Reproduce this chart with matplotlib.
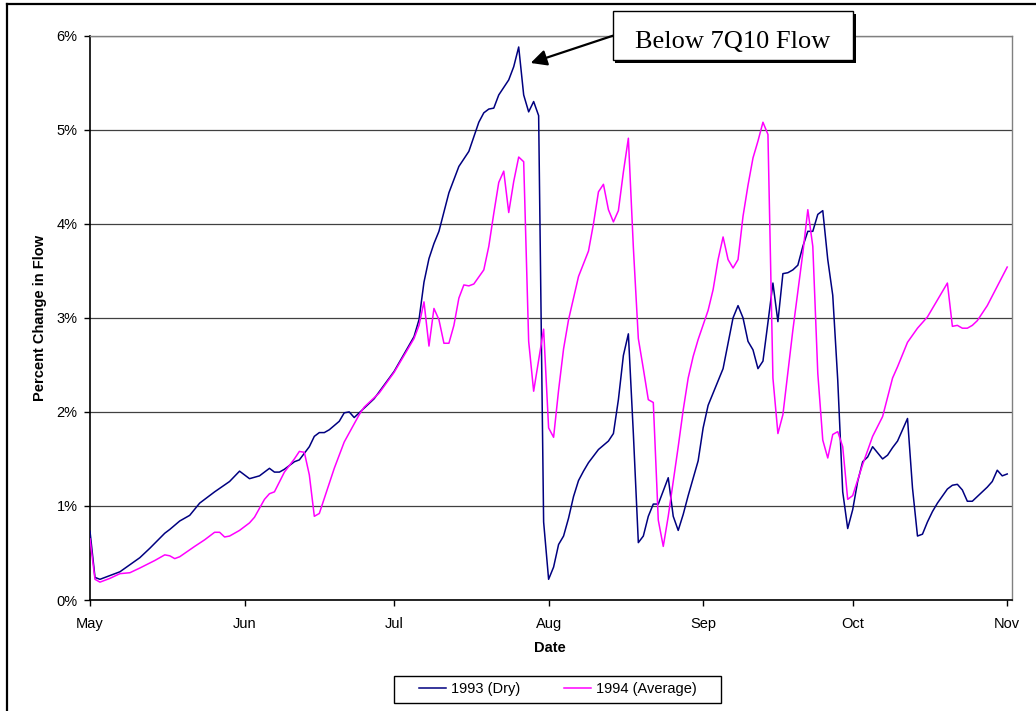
import matplotlib
matplotlib.use("Agg")
import matplotlib.pyplot as plt
from matplotlib.patches import Rectangle
from matplotlib.lines import Line2D

plt.rcParams['font.family'] = ['Liberation Sans', 'DejaVu Sans']

# ---- data (day offset from May 1, percent change in flow) ----
month_labels = ["May", "Jun", "Jul", "Aug", "Sep", "Oct", "Nov"]
month_days = [0, 31, 61, 92, 123, 153, 184]
ytick_vals = [0, 1, 2, 3, 4, 5, 6]
ytick_labels = ["0%", "1%", "2%", "3%", "4%", "5%", "6%"]

days_1993 = [0, 1, 2, 6, 10, 12, 15, 16, 18, 20, 22, 25, 28, 30, 32, 34, 36, 37, 38, 39,
             41, 42, 44, 45, 46, 47, 48, 50, 51, 52, 53, 55, 57, 61, 65, 66, 67, 68, 69, 70,
             72, 74, 76, 78, 79, 80, 81, 82, 84, 85, 86, 87, 88, 89, 90, 91, 92, 93, 94, 95,
             96, 97, 98, 99, 100, 102, 104, 105, 106, 107, 108, 109, 110, 111, 112, 113, 114, 116, 117, 118,
             119, 120, 122, 123, 124, 127, 129, 130, 131, 132, 133, 134, 135, 136, 137, 138, 139, 140, 141, 142,
             143, 144, 145, 146, 147, 148, 149, 150, 151, 152, 153, 154, 155, 156, 157, 159, 160, 161, 162, 164,
             165, 166, 167, 168, 169, 170, 172, 173, 174, 175, 176, 177, 178, 180, 181, 182, 183, 184]
flow_1993 = [0.73, 0.24, 0.22, 0.30, 0.45, 0.55, 0.71, 0.75, 0.84, 0.90, 1.03, 1.15, 1.26, 1.37, 1.29, 1.32, 1.40, 1.36, 1.36, 1.39,
             1.47, 1.49, 1.63, 1.74, 1.78, 1.78, 1.81, 1.90, 1.99, 2.00, 1.94, 2.04, 2.14, 2.43, 2.80, 2.98, 3.38, 3.63, 3.79, 3.92,
             4.33, 4.61, 4.77, 5.08, 5.18, 5.22, 5.23, 5.37, 5.53, 5.67, 5.88, 5.37, 5.19, 5.30, 5.15, 0.83, 0.22, 0.35, 0.59, 0.68,
             0.87, 1.10, 1.27, 1.37, 1.46, 1.60, 1.69, 1.77, 2.13, 2.60, 2.83, 1.77, 0.61, 0.68, 0.89, 1.02, 1.02, 1.30, 0.89, 0.74,
             0.91, 1.11, 1.48, 1.83, 2.07, 2.46, 3.00, 3.13, 3.00, 2.75, 2.66, 2.46, 2.54, 2.95, 3.37, 2.96, 3.47, 3.48, 3.51, 3.56,
             3.76, 3.92, 3.92, 4.10, 4.14, 3.62, 3.24, 2.34, 1.15, 0.76, 0.96, 1.26, 1.47, 1.52, 1.63, 1.50, 1.54, 1.62, 1.69, 1.93,
             1.19, 0.68, 0.70, 0.83, 0.94, 1.03, 1.18, 1.22, 1.23, 1.17, 1.05, 1.05, 1.10, 1.20, 1.26, 1.38, 1.32, 1.34]

days_1994 = [0, 1, 2, 4, 6, 8, 10, 13, 15, 16, 17, 18, 21, 23, 25, 26, 27, 28, 30, 32,
             33, 35, 36, 37, 39, 41, 42, 43, 44, 45, 46, 49, 51, 54, 55, 58, 61, 65, 66, 67,
             68, 69, 70, 71, 72, 73, 74, 75, 76, 77, 79, 80, 81, 82, 83, 84, 85, 86, 87, 88,
             89, 90, 91, 92, 93, 94, 95, 96, 97, 98, 100, 101, 102, 103, 104, 105, 106, 107, 108, 109,
             110, 111, 112, 113, 114, 115, 116, 117, 118, 119, 120, 121, 122, 124, 125, 126, 127, 128, 129, 130,
             131, 132, 133, 134, 135, 136, 137, 138, 139, 140, 141, 142, 143, 144, 145, 146, 147, 148, 149, 150,
             151, 152, 153, 155, 157, 159, 161, 162, 164, 166, 168, 170, 172, 173, 174, 175, 176, 177, 178, 179,
             180, 184]
flow_1994 = [0.65, 0.22, 0.19, 0.23, 0.28, 0.29, 0.34, 0.42, 0.48, 0.47, 0.44, 0.46, 0.57, 0.64, 0.72, 0.72, 0.67, 0.68, 0.74, 0.82,
             0.88, 1.07, 1.13, 1.15, 1.36, 1.50, 1.58, 1.57, 1.33, 0.89, 0.92, 1.40, 1.68, 1.97, 2.05, 2.20, 2.42, 2.78, 2.92, 3.17,
             2.70, 3.10, 2.98, 2.73, 2.73, 2.92, 3.21, 3.35, 3.34, 3.36, 3.51, 3.76, 4.11, 4.44, 4.56, 4.12, 4.45, 4.71, 4.66, 2.75,
             2.22, 2.55, 2.88, 1.83, 1.73, 2.23, 2.67, 2.98, 3.21, 3.44, 3.71, 4.00, 4.34, 4.42, 4.15, 4.02, 4.14, 4.55, 4.91, 3.75,
             2.78, 2.46, 2.13, 2.10, 0.85, 0.57, 0.89, 1.26, 1.63, 2.02, 2.36, 2.59, 2.77, 3.08, 3.30, 3.62, 3.86, 3.62, 3.53, 3.62,
             4.08, 4.41, 4.70, 4.88, 5.08, 4.95, 2.36, 1.77, 1.97, 2.42, 2.87, 3.28, 3.69, 4.15, 3.76, 2.41, 1.70, 1.51, 1.76, 1.79,
             1.63, 1.07, 1.11, 1.44, 1.74, 1.95, 2.36, 2.48, 2.74, 2.89, 3.01, 3.19, 3.37, 2.91, 2.92, 2.89, 2.89, 2.92, 2.97, 3.05,
             3.13, 3.54]

W, H = 1036, 711
fig = plt.figure(figsize=(W / 100, H / 100), dpi=100)
ax = fig.add_axes([90 / W, 1 - 600 / H, (1011.7 - 90) / W, (600 - 35.7) / H])

ax.plot(days_1993, flow_1993, color='#000080', lw=1.1, label='1993 (Dry)', zorder=3)
ax.plot(days_1994, flow_1994, color='#FF00FF', lw=1.1, label='1994 (Average)', zorder=3)

ax.set_xlim(0, 184.9)
ax.set_ylim(0, 6)
ax.set_xticks(month_days)
ax.set_xticklabels(month_labels)
ax.set_yticks(ytick_vals)
ax.set_yticklabels(ytick_labels)
ax.tick_params(axis='both', direction='out', length=4, width=1, labelsize=10.5, colors='black')
ax.tick_params(axis='x', pad=8)
ax.tick_params(axis='y', pad=5)

ax.set_axisbelow(True)
ax.yaxis.grid(True, color='#404040', lw=0.9)
for s in ['left', 'bottom']:
    ax.spines[s].set_color('black')
    ax.spines[s].set_linewidth(1.2)
for s in ['top', 'right']:
    ax.spines[s].set_color('#808080')
    ax.spines[s].set_linewidth(1.0)

ax.set_xlabel('Date', fontsize=10.5, fontweight='bold')
ax.xaxis.set_label_coords((550 - 90) / (1011.7 - 90), (600 - 641) / (600 - 35.7))
ax.set_ylabel('Percent Change in Flow', fontsize=10.5, fontweight='bold')
ax.yaxis.set_label_coords((47 - 90) / (1011.7 - 90), 0.5)

# annotation box with shadow
bx0, bx1 = 104.9, 153.1
by0, by1 = (600 - 60) / 94.05, (600 - 11) / 94.05
dx, dy = 2.5 / 4.984, 2.5 / 94.05
ax.add_patch(Rectangle((bx0 + dx, by0 - dy), bx1 - bx0, by1 - by0, fc='black', ec='black',
                       lw=0, clip_on=False, zorder=5))
ax.add_patch(Rectangle((bx0, by0), bx1 - bx0, by1 - by0, fc='white', ec='black',
                       lw=1.0, clip_on=False, zorder=6))
ax.text((bx0 + bx1) / 2, (600 - 47.5) / 94.05, 'Below 7Q10 Flow', ha='center', va='baseline',
        fontsize=19, family=['Liberation Serif', 'DejaVu Serif'], zorder=7, clip_on=False)
ax.annotate('', xy=(88.4, 5.71), xytext=(bx0, 6.0),
            arrowprops=dict(arrowstyle='-|>', color='black', lw=1.6, mutation_scale=24,
                            shrinkA=0, shrinkB=0),
            annotation_clip=False, zorder=7)

# legend
leg = fig.legend(loc='center', bbox_to_anchor=(557.5 / W, 1 - 689.5 / H), ncol=2,
                 frameon=False, fontsize=10.5, handlelength=1.9, handletextpad=0.3,
                 columnspacing=3.0)
fig.patches.append(Rectangle((394 / W, 1 - 703.3 / H), 327 / W, 27.6 / H, transform=fig.transFigure,
                             fc='none', ec='black', lw=1.0))

# outer frame
fig.add_artist(Line2D([7 / W, 7 / W], [0, 1 - 4 / H], transform=fig.transFigure, color='black', lw=1.6))
fig.add_artist(Line2D([7 / W, 1], [1 - 4 / H, 1 - 4 / H], transform=fig.transFigure, color='black', lw=1.6))

fig.savefig('out.png', dpi=100)
